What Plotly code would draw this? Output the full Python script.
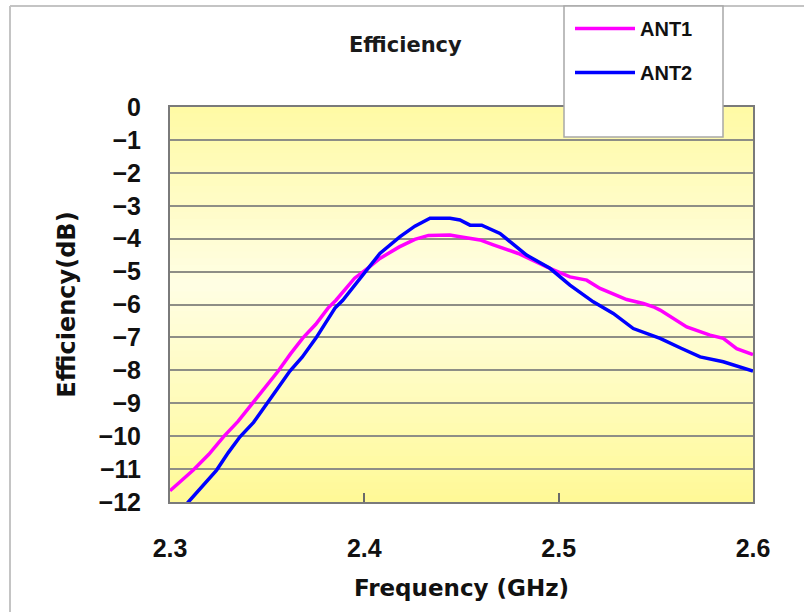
import plotly.graph_objects as go

# ---- data ----
ant1_freq = [2.300, 2.312, 2.320, 2.3275, 2.335, 2.342, 2.349, 2.3557, 2.362, 2.3683,
             2.375, 2.3813, 2.3854, 2.395, 2.402, 2.408, 2.418, 2.426, 2.433, 2.444,
             2.4492, 2.4595, 2.4664, 2.4792, 2.4955, 2.5058, 2.5144, 2.5213, 2.535, 2.5436,
             2.5487, 2.5522, 2.5659, 2.5779, 2.5847, 2.5916, 2.600]
ant1_eff = [-11.66, -11.03, -10.55, -10.02, -9.55, -9.04, -8.55, -8.02, -7.50, -7.02,
            -6.60, -6.11, -5.87, -5.20, -4.89, -4.60, -4.25, -4.02, -3.90, -3.89,
            -3.94, -4.04, -4.19, -4.45, -4.90, -5.16, -5.26, -5.51, -5.85, -5.97,
            -6.07, -6.17, -6.68, -6.93, -7.03, -7.34, -7.52]

ant2_freq = [2.309, 2.316, 2.324, 2.330, 2.336, 2.343, 2.3497, 2.356, 2.3617, 2.368,
             2.3751, 2.3849, 2.3889, 2.396, 2.402, 2.408, 2.4184, 2.426, 2.4338, 2.4441,
             2.4492, 2.4544, 2.4604, 2.4698, 2.4764, 2.4835, 2.4955, 2.5058, 2.5178, 2.5281,
             2.5384, 2.5522, 2.563, 2.5728, 2.5847, 2.593, 2.600]
ant2_eff = [-12.03, -11.55, -11.03, -10.50, -10.02, -9.58, -9.04, -8.50, -8.02, -7.60,
            -7.02, -6.11, -5.87, -5.35, -4.89, -4.45, -3.94, -3.62, -3.38, -3.38,
            -3.43, -3.59, -3.59, -3.84, -4.16, -4.50, -4.90, -5.41, -5.92, -6.27,
            -6.73, -7.03, -7.33, -7.59, -7.74, -7.88, -8.02]

x_ticks = [2.3, 2.4, 2.5, 2.6]
y_ticks = list(range(0, -13, -1))

W, H = 804, 612
L, R, T, B = 170, 51, 107, 110
pw, ph = W - L - R, H - T - B


def px2paper_x(px):
    return (px - L) / pw


def px2paper_y(py):
    return (H - B - py) / ph


fig = go.Figure()
fig.add_trace(go.Scatter(x=ant1_freq, y=ant1_eff, mode="lines", name="ANT1",
                         line=dict(color="#FF00FF", width=3.5), legendgroup="a"))
fig.add_trace(go.Scatter(x=ant2_freq, y=ant2_eff, mode="lines", name="ANT2",
                         line=dict(color="#0000FF", width=3.5), legendgroup="b"))

shapes = []
# gradient background of the plot area
n = 60
top_c = (255, 249, 150)
mid_c = (255, 254, 228)
for i in range(n):
    t = (i + 0.5) / n  # 0 bottom -> 1 top
    d = abs(t - 0.55) / 0.55 if t > 0.55 else abs(0.55 - t) / 0.55
    d = min(d, 1.0)
    c = tuple(int(round(mid_c[k] + (top_c[k] - mid_c[k]) * d)) for k in range(3))
    shapes.append(dict(type="rect", xref="paper", yref="paper", x0=0, x1=1,
                       y0=i / n, y1=(i + 1) / n + 0.002, line=dict(width=0),
                       fillcolor="rgb(%d,%d,%d)" % c, layer="below"))

# outer chart frame (top and left edges)
shapes.append(dict(type="line", xref="paper", yref="paper",
                   x0=px2paper_x(10), x1=px2paper_x(804), y0=px2paper_y(6), y1=px2paper_y(6),
                   line=dict(color="#c4c4c4", width=2)))
shapes.append(dict(type="line", xref="paper", yref="paper",
                   x0=px2paper_x(10), x1=px2paper_x(10), y0=px2paper_y(6), y1=px2paper_y(612),
                   line=dict(color="#c4c4c4", width=2)))
# legend box
shapes.append(dict(type="rect", xref="paper", yref="paper",
                   x0=px2paper_x(564), x1=px2paper_x(723), y0=px2paper_y(137), y1=px2paper_y(6),
                   line=dict(color="#a8a8a8", width=1.5), fillcolor="white", layer="above"))

fig.update_layout(
    width=W, height=H,
    margin=dict(l=L, r=R, t=T, b=B, autoexpand=False),
    paper_bgcolor="white", plot_bgcolor="rgba(0,0,0,0)",
    shapes=shapes,
    showlegend=True,
    legend=dict(x=px2paper_x(570), y=px2paper_y(9), xanchor="left", yanchor="top",
                bgcolor="rgba(0,0,0,0)", borderwidth=0, itemwidth=60,
                tracegroupgap=15,
                font=dict(family="Liberation Sans, Arial, sans-serif", size=20, color="#111111",
                          weight="bold")),
    annotations=[dict(text="Efficiency", x=px2paper_x(405), y=px2paper_y(45), xref="paper",
                      yref="paper", showarrow=False, xanchor="center", yanchor="middle",
                      font=dict(family="DejaVu Sans, sans-serif", size=21, color="#1a1a1a",
                                weight="bold"))],
    font=dict(family="Liberation Sans, Arial, sans-serif", color="#111111"),
)

fig.update_xaxes(range=[2.3, 2.6], tickvals=x_ticks, ticktext=[f"{v:.1f}" for v in x_ticks],
                 showgrid=False, zeroline=False,
                 showline=True, linecolor="#7a7a7a", linewidth=2, mirror=True,
                 ticks="inside", ticklen=9, tickwidth=1.5, tickcolor="#6a6a6a",
                 ticklabelstandoff=23,
                 tickfont=dict(family="Liberation Sans, Arial, sans-serif", size=25, weight="bold",
                               color="#111111"),
                 title=dict(text="Frequency (GHz)", standoff=19,
                            font=dict(family="DejaVu Sans, sans-serif", size=23, weight="bold",
                                      color="#111111")))
fig.update_yaxes(range=[-12, 0], tickvals=y_ticks, ticktext=[str(v).replace("-", "\u2212") for v in y_ticks],
                 showgrid=True, gridcolor="#8e8e86", gridwidth=2, zeroline=False,
                 showline=True, linecolor="#7a7a7a", linewidth=2, mirror=True,
                 ticks="", ticklabelstandoff=22,
                 tickfont=dict(family="Liberation Sans, Arial, sans-serif", size=25, weight="bold",
                               color="#111111"),
                 title=dict(text="Efficiency(dB)", standoff=16,
                            font=dict(family="DejaVu Sans, sans-serif", size=24, weight="bold",
                                      color="#111111")))

fig.write_html("out.html", config={"displayModeBar": False},
               post_script="document.body.style.margin='0';")
